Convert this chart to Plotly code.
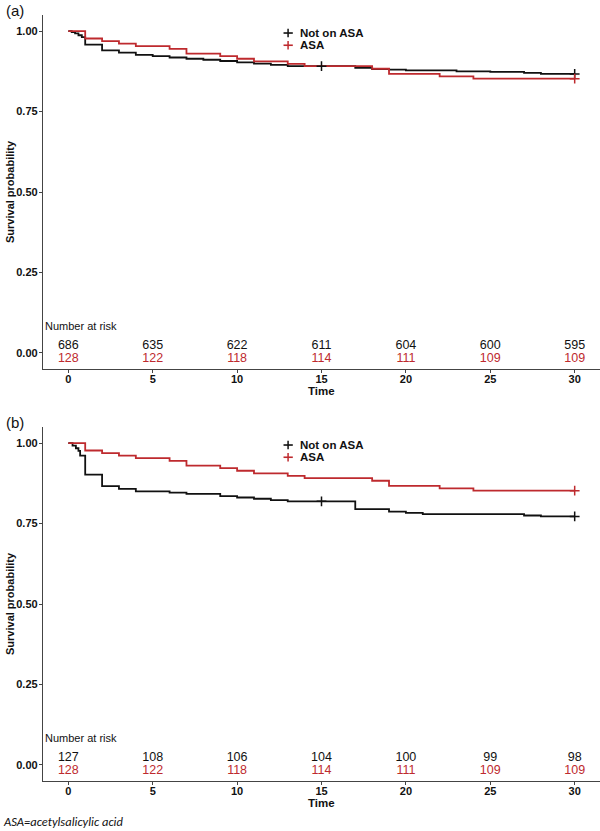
import plotly.graph_objects as go

# ---------------- data ----------------
time_ticks = [0, 5, 10, 15, 20, 25, 30]

# Panel (a)
a_noasa_t = [0, 0.2, 0.4, 0.6, 0.8, 1, 2, 3, 4, 5, 6, 7, 8, 9, 10, 11, 12, 13, 17, 18, 19, 20, 23, 25, 27, 28, 30]
a_noasa_s = [1.0, 0.997, 0.993, 0.987, 0.981, 0.958, 0.940, 0.933, 0.926, 0.922, 0.918, 0.914, 0.911, 0.907,
             0.903, 0.899, 0.895, 0.891, 0.886, 0.882, 0.880, 0.878, 0.875, 0.873, 0.870, 0.867, 0.867]
a_noasa_cens_t = [15, 30]
a_noasa_cens_s = [0.891, 0.867]

asa_t = [0, 1, 2, 3, 4, 6, 7, 9, 10, 11, 13, 14, 18, 19, 22, 24, 30]
asa_s = [1.0, 0.977, 0.969, 0.961, 0.953, 0.945, 0.930, 0.922, 0.914, 0.906, 0.898, 0.891, 0.883, 0.867,
         0.859, 0.852, 0.852]
asa_cens_t = [30]
asa_cens_s = [0.852]

# Panel (b)
b_noasa_t = [0, 0.25, 0.45, 0.6, 0.7, 1, 2, 3, 4, 6, 7, 9, 10, 11, 12, 13, 17, 19, 20, 21, 27, 28, 30]
b_noasa_s = [1.0, 0.992, 0.984, 0.976, 0.961, 0.902, 0.866, 0.858, 0.850, 0.846, 0.842, 0.835,
             0.831, 0.827, 0.823, 0.819, 0.795, 0.787, 0.783, 0.779, 0.775, 0.772, 0.772]
b_noasa_cens_t = [15, 30]
b_noasa_cens_s = [0.819, 0.772]

# Numbers at risk
a_risk_noasa = [686, 635, 622, 611, 604, 600, 595]
b_risk_noasa = [127, 108, 106, 104, 100, 99, 98]
risk_asa = [128, 122, 118, 114, 111, 109, 109]

series_names = ["Not on ASA", "ASA"]
panel_labels = ["(a)", "(b)"]
footnote = "ASA=acetylsalicylic acid"

# ---------------- styling ----------------
W, H = 600, 831
BLACK = "#111111"
RED = "#BE2A2E"
AXIS = "#444444"
FONT = "Liberation Sans, Arial, sans-serif"

def py(p):  # pixel-from-top -> paper y
    return 1 - p / H

def px(p):
    return p / W

panels = [
    dict(top=15, bottom=369, noasa=(a_noasa_t, a_noasa_s, a_noasa_cens_t, a_noasa_cens_s), risk=a_risk_noasa),
    dict(top=427, bottom=781, noasa=(b_noasa_t, b_noasa_s, b_noasa_cens_t, b_noasa_cens_s), risk=b_risk_noasa),
]

fig = go.Figure()
annotations = []
layout_axes = {}

for i, p in enumerate(panels):
    xa = "x" if i == 0 else "x2"
    ya = "y" if i == 0 else "y2"
    nt, ns, nct, ncs = p["noasa"]

    # curves
    fig.add_trace(go.Scatter(x=nt, y=ns, mode="lines", line=dict(color=BLACK, width=1.8, shape="hv"),
                             xaxis=xa, yaxis=ya, showlegend=False, hoverinfo="skip"))
    fig.add_trace(go.Scatter(x=asa_t, y=asa_s, mode="lines", line=dict(color=RED, width=1.8, shape="hv"),
                             xaxis=xa, yaxis=ya, showlegend=False, hoverinfo="skip"))
    # censor marks
    fig.add_trace(go.Scatter(x=nct, y=ncs, mode="markers",
                             marker=dict(symbol="cross-thin", size=7, line=dict(color=BLACK, width=1.5)),
                             xaxis=xa, yaxis=ya, showlegend=False, hoverinfo="skip"))
    fig.add_trace(go.Scatter(x=asa_cens_t, y=asa_cens_s, mode="markers",
                             marker=dict(symbol="cross-thin", size=7, line=dict(color=RED, width=1.5)),
                             xaxis=xa, yaxis=ya, showlegend=False, hoverinfo="skip"))

    # legend glyphs
    for yy, col in [(0.994, BLACK), (0.956, RED)]:
        fig.add_trace(go.Scatter(x=[12.75, 13.3], y=[yy, yy], mode="lines", line=dict(color=col, width=1.6),
                                 xaxis=xa, yaxis=ya, showlegend=False, hoverinfo="skip"))
        fig.add_trace(go.Scatter(x=[13.02], y=[yy], mode="markers",
                                 marker=dict(symbol="line-ns", size=6, line=dict(color=col, width=1.5)),
                                 xaxis=xa, yaxis=ya, showlegend=False, hoverinfo="skip"))
    for yy, name in [(0.994, series_names[0]), (0.956, series_names[1])]:
        annotations.append(dict(x=13.6, y=yy, xref=xa, yref=ya, text="<b>%s</b>" % name, showarrow=False,
                                xanchor="left", yanchor="middle", font=dict(family=FONT, size=11.5, color=BLACK)))

    # risk table
    fig.add_trace(go.Scatter(x=time_ticks, y=[0.022] * 7, mode="text", text=[str(v) for v in p["risk"]],
                             textfont=dict(family=FONT, size=12.5, color=BLACK), textposition="middle center",
                             xaxis=xa, yaxis=ya, showlegend=False, hoverinfo="skip"))
    fig.add_trace(go.Scatter(x=time_ticks, y=[-0.019] * 7, mode="text", text=[str(v) for v in risk_asa],
                             textfont=dict(family=FONT, size=12.5, color=RED), textposition="middle center",
                             xaxis=xa, yaxis=ya, showlegend=False, hoverinfo="skip"))
    annotations.append(dict(x=-1.5, y=0.085, xref=xa, yref=ya, text="Number at risk", showarrow=False,
                            xanchor="left", yanchor="middle", font=dict(family=FONT, size=11, color=BLACK)))

    ydom = [py(p["bottom"]), py(p["top"])]
    common = dict(showline=True, linecolor=AXIS, linewidth=1.3, ticks="outside", ticklen=3,
                  tickcolor=AXIS, tickwidth=1, showgrid=False, zeroline=False,
                  tickfont=dict(family=FONT, size=11, color=BLACK, weight="bold"), automargin=False)
    xkey = "xaxis" if i == 0 else "xaxis2"
    ykey = "yaxis" if i == 0 else "yaxis2"
    layout_axes[xkey] = dict(common, domain=[px(43), 1], range=[-1.5, 31.5], tickvals=time_ticks,
                             anchor=ya, fixedrange=True, ticklabelstandoff=-3)
    layout_axes[ykey] = dict(common, domain=ydom, range=[-0.05, 1.05], tickvals=[0, 0.25, 0.5, 0.75, 1.0],
                             ticktext=["0.00", "0.25", "0.50", "0.75", "1.00"], anchor=xa, fixedrange=True,
                             ticklabelstandoff=-1)

    # axis titles
    annotations.append(dict(x=px(43 + 557 * 16.5 / 33), y=py(p["bottom"] + 22), xref="paper", yref="paper",
                            text="<b>Time</b>", showarrow=False, xanchor="center", yanchor="middle",
                            font=dict(family=FONT, size=11.5, color=BLACK)))
    annotations.append(dict(x=px(10), y=py((p["top"] + p["bottom"]) / 2), xref="paper", yref="paper",
                            text="<b>Survival probability</b>", showarrow=False, textangle=-90,
                            xanchor="center", yanchor="middle", font=dict(family=FONT, size=11, color=BLACK)))
    annotations.append(dict(x=px(4), y=py(p["top"] - 5), xref="paper", yref="paper",
                            text=panel_labels[i], showarrow=False, xanchor="left", yanchor="middle",
                            font=dict(family=FONT, size=15, color=BLACK)))

annotations.append(dict(x=px(1), y=py(821), xref="paper", yref="paper", text="<i>%s</i>" % footnote,
                        showarrow=False, xanchor="left", yanchor="middle",
                        font=dict(family="Carlito, Liberation Sans, sans-serif", size=12.5, color=BLACK)))

fig.update_layout(width=W, height=H, margin=dict(l=0, r=0, t=0, b=0), paper_bgcolor="white",
                  plot_bgcolor="white", showlegend=False, annotations=annotations, **layout_axes)

fig.write_html("out.html", config={"displayModeBar": False},
               post_script="document.body.style.margin='0';document.body.style.overflow='hidden';")
